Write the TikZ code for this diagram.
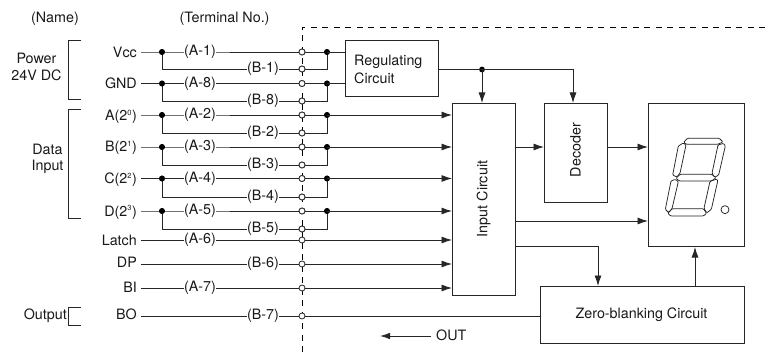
\documentclass[tikz,border=0pt]{standalone}
\usepackage{fontspec}
\setmainfont{TeX Gyre Heros}
\usetikzlibrary{arrows.meta}
\definecolor{ink}{gray}{0.15}
\tikzset{
  wire/.style={draw=ink,line width=0.9pt},
  arr/.style={wire,-{Latex[length=10.5pt,width=7pt]}},
  blockbox/.style={draw=ink,line width=1pt,fill=white,inner sep=0pt,anchor=north west},
  txt/.style={inner sep=0pt,font=\fontsize{14.3}{16.3}\selectfont,text=black!90},
  sig/.style={txt,anchor=base east},
  term/.style={txt,fill=white,inner sep=0pt},
  opencirc/.style={circle,draw=ink,line width=0.8pt,fill=white,minimum size=6pt,inner sep=0pt},
  soliddot/.style={circle,fill=black,minimum size=5.8pt,inner sep=0pt},
  seg/.style={draw=ink,line width=0.75pt,rounded corners=1pt},
  brack/.style={draw=ink,line width=0.9pt},
  dashline/.style={draw=black,line width=0.8pt,dash pattern=on 6pt off 5.5pt},
}
\newcommand{\sq}[1]{\textsuperscript{\fontsize{7.5}{7.5}\selectfont #1}}
\begin{document}
\begin{tikzpicture}[x=1pt,y=-1pt]
\useasboundingbox (0,0) rectangle (765,358);
\fill[white] (0,0) rectangle (765,358);
% dashed boundary
\coordinate (dc) at (302,27);
\coordinate (dr) at (765,27);
\coordinate (db) at (302,358);
\draw[dashline] (dr) -- (dc) -- (db);
% blocks
\node[blockbox,minimum width=93pt,minimum height=56pt] (reg) at (345,40) {};
\node[txt,align=left,anchor=west,font=\fontsize{14.3}{18}\selectfont] (regt) at (354,69) {Regulating\\Circuit};
\node[blockbox,minimum width=63pt,minimum height=192pt] (input) at (452,103) {};
\node[txt,rotate=90] (inputt) at (483.5,199) {Input Circuit};
\node[blockbox,minimum width=63pt,minimum height=99pt] (dec) at (544,103) {};
\node[txt,rotate=90] (dect) at (575.5,150) {Decoder};
\node[blockbox,minimum width=96pt,minimum height=143pt] (disp) at (648,103) {};
\node[blockbox,minimum width=204pt,minimum height=57pt] (zero) at (540,286) {};
\node[txt] (zerot) at (641.5,315) {Zero-blanking Circuit};
% headers
\node[txt] (hname) at (55,19) {(Name)};
\node[txt] (hterm) at (224.5,19) {(Terminal No.)};
\node[txt,align=center] (hpow) at (36.5,67) {Power\\24V DC};
\node[txt,align=center] (hdata) at (47.5,159) {Data\\Input};
\node[txt,anchor=east] (hout) at (67,316) {Output};
% brackets
\coordinate (b1a) at (81,40); \coordinate (b1b) at (68.5,40); \coordinate (b1c) at (68.5,99.5); \coordinate (b1d) at (81,99.5);
\draw[brack] (b1a) -- (b1b) -- (b1c) -- (b1d);
\coordinate (b2a) at (81,109.5); \coordinate (b2b) at (68.5,109.5); \coordinate (b2c) at (68.5,218.5); \coordinate (b2d) at (81,218.5);
\draw[brack] (b2a) -- (b2b) -- (b2c) -- (b2d);
\coordinate (b3a) at (81,307.5); \coordinate (b3b) at (68.5,307.5); \coordinate (b3c) at (68.5,325.5); \coordinate (b3d) at (81,325.5);
\draw[brack] (b3a) -- (b3b) -- (b3c) -- (b3d);
% doubled input rows
\foreach \id/\lab/\ya/\yb/\ybase/\ta/\tb/\dest in {
  vcc/{Vcc}/52/69/57.3/{(A-1)}/{(B-1)}/reg,
  gnd/{GND}/83.5/101/89/{(A-8)}/{(B-8)}/reg,
  a/{A(2\sq{0})}/115/133/120.5/{(A-2)}/{(B-2)}/input,
  b/{B(2\sq{1})}/147/165/152/{(A-3)}/{(B-3)}/input,
  c/{C(2\sq{2})}/178.5/197/184/{(A-4)}/{(B-4)}/input,
  d/{D(2\sq{3})}/211/229/216/{(A-5)}/{(B-5)}/input}{
  \node[sig] (l\id) at (137,\ybase) {\lab};
  \coordinate (s\id) at (141,\ya);
  \node[soliddot] (j\id) at (162,\ya) {};
  \node[soliddot] (k\id) at (327,\ya) {};
  \node[opencirc] (oa\id) at (302,\ya) {};
  \node[opencirc] (ob\id) at (302,\yb) {};
  \coordinate (cl\id) at (162,\yb);
  \coordinate (cr\id) at (327,\yb);
  \draw[wire] (s\id) -- (j\id.center) -- (oa\id);
  \draw[wire] (oa\id) -- (k\id.center);
  \draw[wire] (j\id.center) -- (cl\id) -- (ob\id);
  \draw[wire] (ob\id) -- (cr\id) -- (k\id.center);
  \node[term] (ta\id) at (200,\ya) {\ta};
  \node[term] (tb\id) at (263,\yb) {\tb};
  \node[soliddot] at (j\id) {};
  \node[soliddot] at (k\id) {};
  \node[opencirc] at (oa\id) {};
  \node[opencirc] at (ob\id) {};
}
\draw[wire] (kvcc.center) -- (kvcc -| reg.west);
\draw[wire] (kgnd.center) -- (kgnd -| reg.west);
\foreach \id in {a,b,c,d}{
  \draw[arr] (k\id.center) -- (k\id -| input.west);
}
% single rows
\foreach \id/\lab/\y/\ybase/\tx/\t in {
  latch/{Latch}/240/245/200/{(A-6)},
  dp/{DP}/264/267/263/{(B-6)},
  bi/{BI}/288/292.3/200/{(A-7)},
  bo/{BO}/316/319.7/263/{(B-7)}}{
  \node[sig] (l\id) at (137,\ybase) {\lab};
  \coordinate (s\id) at (141,\y);
  \node[opencirc] (oa\id) at (302,\y) {};
  \draw[wire] (s\id) -- (oa\id);
  \node[term] (t\id) at (\tx,\y) {\t};
}
\foreach \id in {latch,dp,bi}{
  \draw[arr] (oa\id) -- (oa\id -| input.west);
}
\draw[wire] (oabo) -- (oabo -| zero.west);
% internal connections
\coordinate (rout) at (438,69.5);
\node[soliddot] (jr) at (482,69.5) {};
\coordinate (rdec) at (573,69.5);
\draw[wire] (rout) -- (jr.center) -- (rdec);
\draw[arr] (jr.center) -- (jr |- input.north);
\draw[arr] (rdec) -- (rdec |- dec.north);
\coordinate (i1) at (515,147);
\draw[arr] (i1) -- (i1 -| dec.west);
\coordinate (d1) at (607,147);
\draw[arr] (d1) -- (d1 -| disp.west);
\coordinate (i2) at (515,221);
\draw[arr] (i2) -- (i2 -| disp.west);
\coordinate (i3) at (515,246);
\coordinate (i3b) at (598,246);
\draw[arr] (i3) -- (i3b) -- (i3b |- zero.north);
\coordinate (z1) at (695,286);
\draw[arr] (z1) -- (z1 |- disp.south);
% OUT
\node[txt,anchor=west] (outl) at (436,335) {OUT};
\coordinate (oute) at (380,336);
\coordinate (outs) at (431,336);
\draw[wire,-{Latex[length=10pt,width=6.5pt]}] (outs) -- (oute);
% seven segments
\begin{scope}[shift={(640,120)},x=0.3333pt,y=-0.3333pt]
\draw[seg] (131,67) -- (142,55) -- (238,55) -- (249,66) -- (233,73) -- (139,73) -- cycle;
\draw[seg] (130,69) -- (138,75) -- (120,160) -- (110,171) -- (98,165) -- (115,78) -- cycle;
\draw[seg] (251,70) -- (256,78) -- (236,165) -- (224,172) -- (216,160) -- (234,75) -- cycle;
\draw[seg] (108,175) -- (120,163) -- (215,163) -- (228,173) -- (215,183) -- (118,183) -- cycle;
\draw[seg] (106,178) -- (115,185) -- (96,266) -- (86,278) -- (76,268) -- (93,183) -- cycle;
\draw[seg] (231,177) -- (233,184) -- (214,268) -- (200,279) -- (192,265) -- (210,184) -- cycle;
\draw[seg] (83,279) -- (97,266) -- (190,266) -- (200,280) -- (190,288) -- (92,288) -- cycle;
\draw[draw=ink,line width=0.75pt] (255,269) circle (12);
\end{scope}
\end{tikzpicture}
\end{document}
